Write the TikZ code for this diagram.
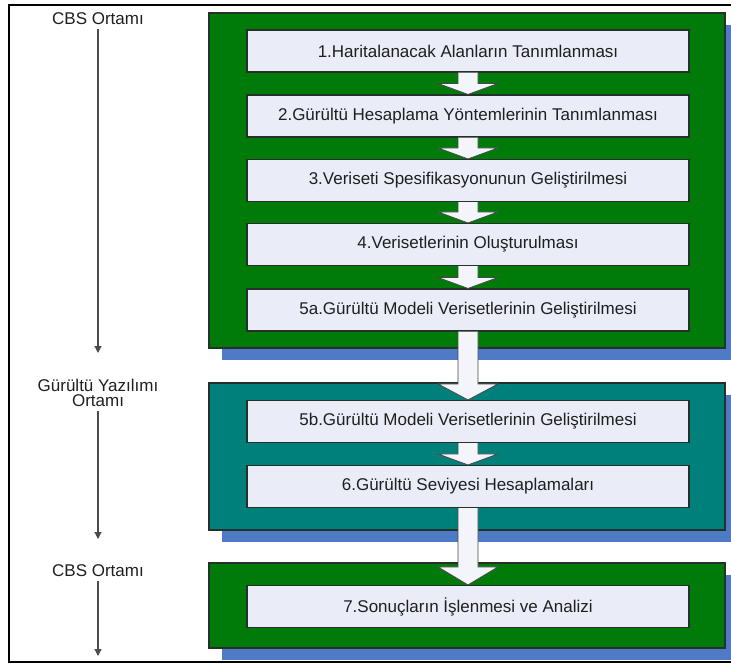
\documentclass[tikz,border=0pt]{standalone}
\usepackage{fontspec}
\setmainfont{Liberation Sans}
\usepackage{tikz}
\usetikzlibrary{arrows.meta}
\usetikzlibrary{calc}
\usetikzlibrary{shadows}
\definecolor{panelgreen}{RGB}{0,122,8}
\definecolor{panelteal}{RGB}{0,128,122}
\definecolor{shadeblue}{RGB}{78,122,198}
\definecolor{boxfill}{RGB}{234,237,248}
\definecolor{boxline}{RGB}{36,48,40}
\newcommand{\blockarrow}[3]{%
  \draw[bigarrow] ($(#1.south)+(-10,0)$) -- ($(#2.north)+(-10,-#3)$) -- ($(#2.north)+(-30,-#3)$) -- (#2.north)
    -- ($(#2.north)+(30,-#3)$) -- ($(#2.north)+(10,-#3)$) -- ($(#1.south)+(10,0)$);}

\begin{document}
\begin{tikzpicture}[x=1pt, y=-1pt, >={Triangle[length=7pt,width=7pt]},
  panel/.style = {draw=boxline, line width=1.2pt, minimum width=516pt,
    drop shadow={shadow xshift=13pt, shadow yshift=-12pt, fill=shadeblue, opacity=1}},
  main/.style = {draw=boxline, fill=boxfill, line width=1.1pt, minimum width=442pt, minimum height=42pt,
    font=\fontsize{17}{20}\selectfont, text=black!88},
  env/.style = {align=center, inner sep=4pt, font=\fontsize{17}{15.5}\selectfont, text=black!88},
  bigarrow/.style = {draw=gray!55!black, fill=boxfill!55!white, line width=0.8pt}]
    \useasboundingbox (0,0) rectangle (731,664);
    \draw[line width=1.8pt] (745,5) -- (9,5) -- (9,662) -- (745,662);

    % Panels
    \node[panel, fill=panelgreen, minimum height=335pt] (gis1) at (467,180.5) {};
    \node[panel, fill=panelteal, minimum height=147pt] (noise) at (467,456.5) {};
    \node[panel, fill=panelgreen, minimum height=85pt] (gis2) at (467,605.5) {};

    % Nodes
    \node[main] (1) at (468,51) {1.Haritalanacak Alanların Tanımlanması};
    \node[main] (2) at (468,116) {2.Gürültü Hesaplama Yöntemlerinin Tanımlanması};
    \node[main] (3) at (468,180.5) {3.Veriseti Spesifikasyonunun Geliştirilmesi};
    \node[main] (4) at (468,244.5) {4.Verisetlerinin Oluşturulması};
    \node[main] (5a) at (468,310) {5a.Gürültü Modeli Verisetlerinin Geliştirilmesi};
    \node[main] (5b) at (468,421.5) {5b.Gürültü Modeli Verisetlerinin Geliştirilmesi};
    \node[main] (6) at (468,486.5) {6.Gürültü Seviyesi Hesaplamaları};
    \node[main] (7) at (468,606.5) {7.Sonuçların İşlenmesi ve Analizi};

    \node[env] (env1) at (98,19) {CBS Ortamı};
    \node[env] (env2) at (98,393) {Gürültü Yazılımı\\Ortamı};
    \node[env] (env3) at (98,571) {CBS Ortamı};
    \coordinate (end1) at (98,353);
    \coordinate (end2) at (98,539);
    \coordinate (end3) at (98,656);

    % Edges
    \blockarrow{1}{2}{11}
    \blockarrow{2}{3}{11}
    \blockarrow{3}{4}{11}
    \blockarrow{4}{5a}{11}
    \blockarrow{5a}{5b}{16}
    \blockarrow{5b}{6}{11}
    \blockarrow{6}{7}{18}

    \draw[->, draw=gray!60!black, line width=1.2pt] (env1) -- (end1);
    \draw[->, draw=gray!60!black, line width=1.2pt] (env2) -- (end2);
    \draw[->, draw=gray!60!black, line width=1.2pt] (env3) -- (end3);
\end{tikzpicture}
\end{document}
